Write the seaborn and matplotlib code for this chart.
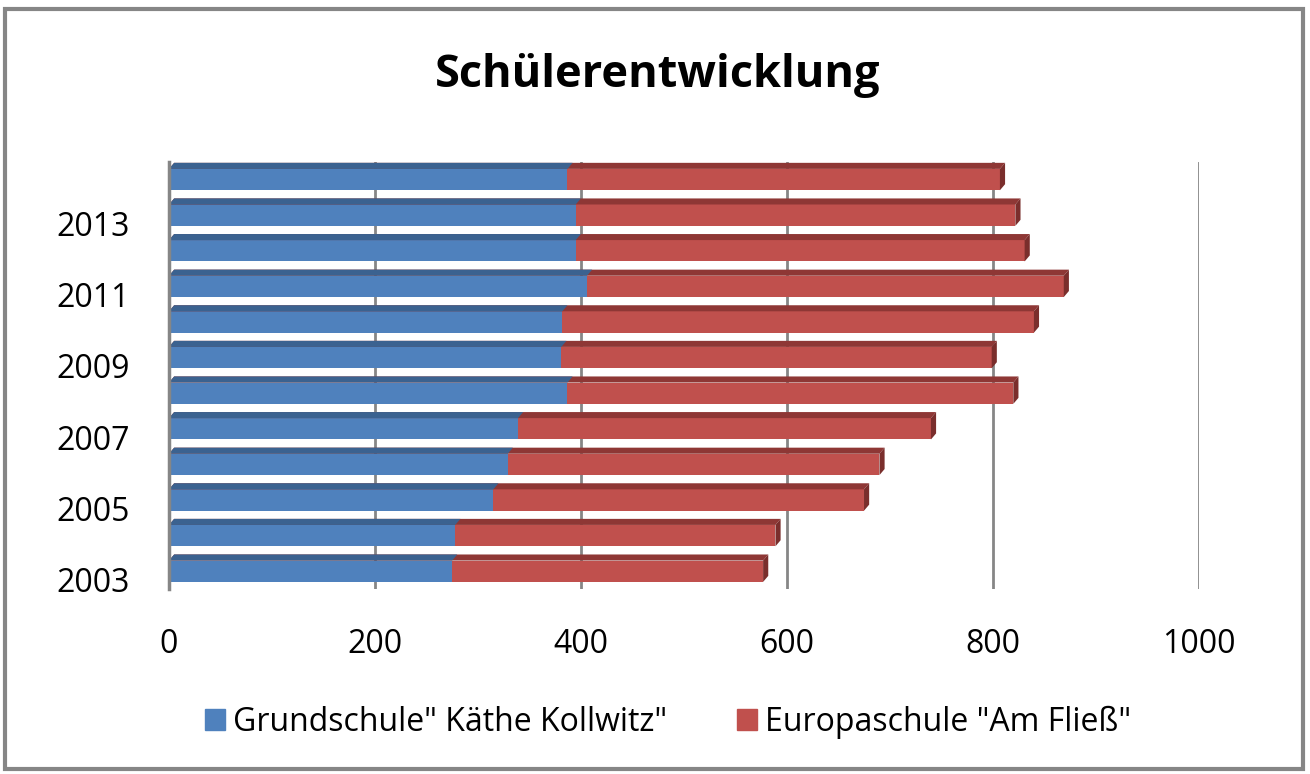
import numpy as np
import pandas as pd
import matplotlib.pyplot as plt
import matplotlib.transforms as mtransforms
from matplotlib.patches import Polygon, Rectangle
import seaborn as sns

sns.set_style("white")
plt.rcParams['font.family'] = ['Open Sans', 'DejaVu Sans']
plt.rcParams['text.color'] = 'black'

# data (top to bottom)
years = [2014, 2013, 2012, 2011, 2010, 2009, 2008, 2007, 2006, 2005, 2004, 2003]
grundschule = [387, 395, 395, 406, 382, 381, 387, 339, 329, 315, 278, 275]
europaschule = [420, 427, 436, 463, 458, 418, 433, 401, 361, 360, 311, 302]
year_labels = ["", "2013", "", "2011", "", "2009", "", "2007", "", "2005", "", "2003"]

df = pd.DataFrame({"Jahr": [str(y) for y in years],
                   "Grundschule": grundschule,
                   "Europaschule": europaschule})
df["Gesamt"] = df["Grundschule"] + df["Europaschule"]

blue, blue_dark = "#4F81BD", "#3B6290"
red, red_dark = "#C0504D", "#8E3735"
grid_col = "#868686"

fig = plt.figure(figsize=(13.1, 7.74), dpi=100)
ax = fig.add_axes([0.129, 0.239, 0.786, 0.552])

# stacked: total first (red), then blue on top
sns.barplot(data=df, y="Jahr", x="Gesamt", color=red, width=0.6,
            saturation=1, ax=ax, orient="h", linewidth=0)
sns.barplot(data=df, y="Jahr", x="Grundschule", color=blue, width=0.6,
            saturation=1, ax=ax, orient="h", linewidth=0)

# fake 3D top / side faces derived from the bars
n = len(df)
dx, dy = 5, 0.17
for i, p in enumerate(list(ax.patches)):
    x0, x1 = p.get_x(), p.get_x() + p.get_width()
    y0, y1 = p.get_y(), p.get_y() + p.get_height()
    dark = red_dark if i < n else blue_dark
    ax.add_patch(Polygon([(x0, y0), (x0 + dx, y0 - dy), (x1 + dx, y0 - dy), (x1, y0)],
                         closed=True, facecolor=dark, edgecolor="none", zorder=p.get_zorder()))
    if i < n:
        ax.add_patch(Polygon([(x1, y0), (x1 + dx, y0 - dy), (x1 + dx, y1 - dy), (x1, y1)],
                             closed=True, facecolor="#7A2E2C", edgecolor="none",
                             zorder=p.get_zorder()))

ax.set_xlim(0, 1000)
ax.set_ylim(n - 0.5, -0.5)
ax.set_xticks([0, 200, 400, 600, 800, 1000])
ax.set_yticks(range(n))
ax.set_yticklabels(year_labels)
ax.grid(axis="x", color=grid_col, linewidth=2)
ax.set_axisbelow(True)
for s in ["top", "right", "bottom"]:
    ax.spines[s].set_visible(False)
ax.spines["left"].set_color(grid_col)
ax.spines["left"].set_linewidth(2.5)
ax.tick_params(axis="both", length=0, labelsize=23, labelcolor="black")
ax.tick_params(axis="x", pad=28)
ax.tick_params(axis="y", pad=28)
ax.set_xlabel("")
ax.set_ylabel("")

# year labels sit a little below the bar centre in the original
shift = mtransforms.ScaledTranslation(0, -6 / 72, fig.dpi_scale_trans)
for lab in ax.get_yticklabels():
    lab.set_transform(lab.get_transform() + shift)

fig.text(0.502, 0.903, "Schülerentwicklung", ha="center", va="center",
         fontsize=32.5, fontweight="bold", color="black")

handles = [Rectangle((0, 0), 1, 1, color=blue), Rectangle((0, 0), 1, 1, color=red)]
fig.legend(handles, ["Grundschule\" Käthe Kollwitz\"", "Europaschule \"Am Fließ\""],
           loc="center", bbox_to_anchor=(0.51, 0.067), ncol=2, frameon=False,
           fontsize=23, handlelength=0.62, handleheight=0.62, handletextpad=0.25,
           columnspacing=2.2)

fig.patches.append(Rectangle((0.004, 0.007), 0.991, 0.981, transform=fig.transFigure,
                             fill=False, edgecolor=grid_col, linewidth=3))

fig.savefig("out.png", dpi=100)
